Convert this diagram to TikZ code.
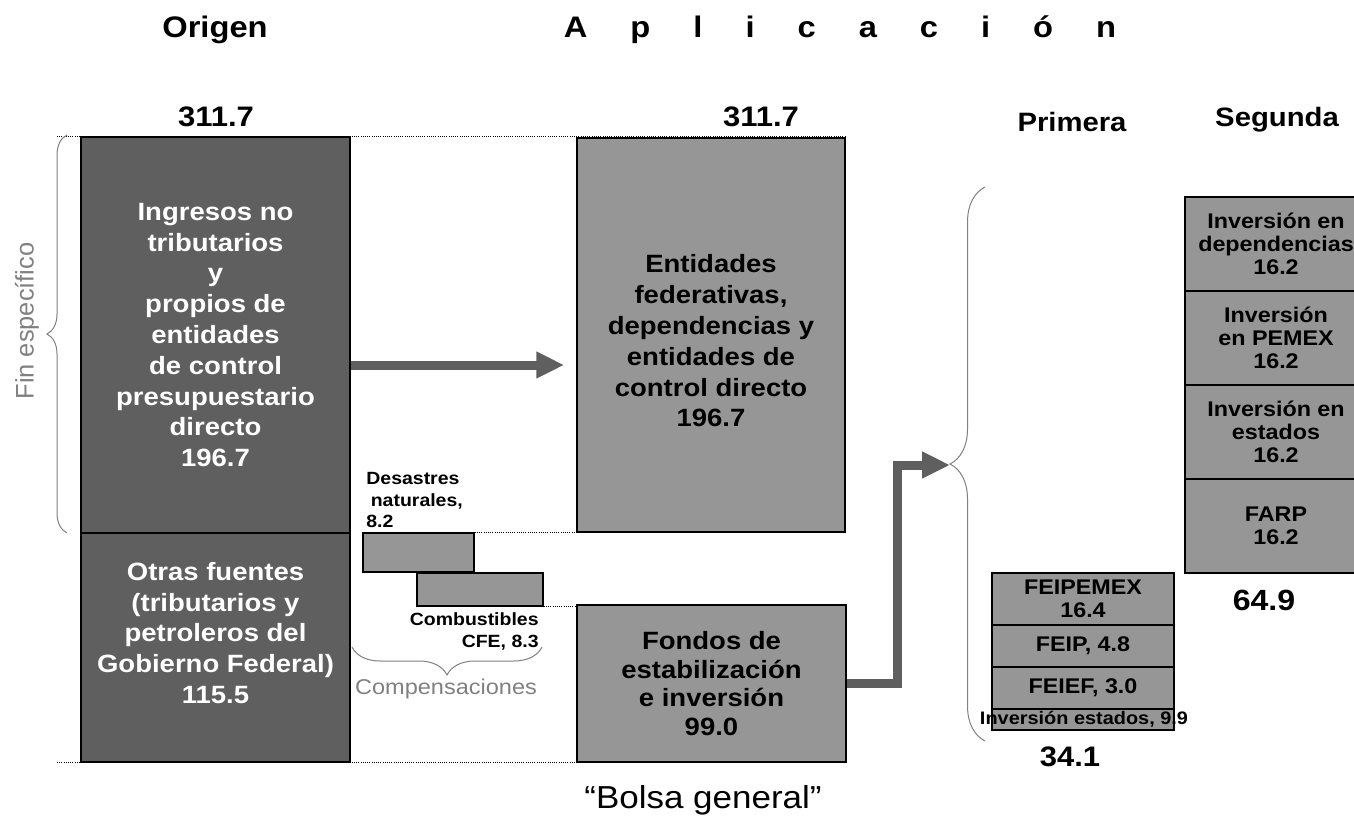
\documentclass[tikz,border=0pt]{standalone}
\usepackage{fontspec}
\setmainfont{Liberation Sans}[FakeStretch=1.1]
\newfontfamily\plainsans{Liberation Sans}
\usetikzlibrary{arrows.meta,decorations.pathreplacing}
\definecolor{darkfill}{RGB}{95,95,95}
\definecolor{lightfill}{RGB}{150,150,150}
\definecolor{bracegray}{RGB}{128,128,128}
\tikzset{
  darkbox/.style={draw=black,line width=0.75pt,fill=darkfill,text=white,inner sep=0pt,align=center,font=\bfseries\fontsize{12.5}{15.4}\selectfont},
  lightbox/.style={draw=black,line width=0.75pt,fill=lightfill,inner sep=0pt,align=center,font=\bfseries\fontsize{12.5}{15.4}\selectfont},
  stackbox/.style={lightbox,minimum width=91pt,font=\bfseries\fontsize{10.6}{11.6}\selectfont},
  smallnote/.style={inner sep=0pt,font=\bfseries\fontsize{8.85}{10.8}\selectfont},
  total/.style={inner sep=0pt,font=\bfseries\fontsize{14.1}{15}\selectfont},
  colhead/.style={inner sep=0pt,font=\bfseries\fontsize{13.3}{14}\selectfont},
  heading/.style={inner sep=0pt,font=\bfseries\fontsize{14.85}{16}\selectfont},
  bigarrow/.style={draw=darkfill,line width=4.5pt,-{Triangle[length=14pt,width=12.5pt]}},
  curly/.style={draw=bracegray,line width=0.5pt,decorate},
  dotline/.style={line width=0.5pt,dash pattern=on 0.5pt off 0.6pt}
}

\begin{document}
\begin{tikzpicture}[x=0.5pt,y=-0.5pt]
\useasboundingbox (0,0) rectangle (1354,818);

\node[heading] (origen) at (215,30) {Origen};
\node[heading] (aplicacion) at (840,30) {\spaceskip=21.5pt A p l i c a c i ó n};

\node[total] (totalorigen) at (216,117) {311.7};
\node[total] (totalaplic) at (761,117) {311.7};
\node[colhead] (primera) at (1072,122) {Primera};
\node[colhead] (segunda) at (1277,120) {Segunda};

\node[darkbox,minimum width=134.5pt,minimum height=198pt] (ingresos) at (215.5,335) {Ingresos no\\ tributarios\\y\\propios de\\ entidades\\de control\\presupuestario\\directo\\196.7};
\node[darkbox,minimum width=134.5pt,minimum height=114.5pt] (otras) at (215.5,647.5) {};
\node[darkbox,draw=none,fill=none] (otrastxt) at (215.5,633) {Otras fuentes\\(tributarios y\\petroleros del\\Gobierno Federal)\\115.5};

\node[lightbox,minimum width=134pt,minimum height=197pt] (entidades) at (711,335) {};
\node[lightbox,draw=none,fill=none] (entidadestxt) at (711,341) {Entidades\\federativas,\\dependencias y\\entidades de\\control directo\\196.7};
\node[lightbox,minimum width=134.5pt,minimum height=78.5pt,font=\bfseries\fontsize{12.5}{14.3}\selectfont] (fondos) at (711.5,683.5) {Fondos de\\estabilización\\e inversión\\99.0};

\node[lightbox,minimum width=55.5pt,minimum height=19.5pt] (desastres) at (418.5,552.5) {};
\node[lightbox,minimum width=63pt,minimum height=16.5pt] (combustibles) at (480,589.5) {};
\node[smallnote,align=left,anchor=north west] (desastrestxt) at (366,472) {Desastres\\\hspace*{0.25em}naturales,\\8.2};
\node[smallnote,align=right,anchor=north east,font=\bfseries\fontsize{8.85}{11}\selectfont] (combustiblestxt) at (539,612) {Combustibles\\CFE, 8.3};

\node[stackbox,minimum height=26pt] (feipemex) at (1083,599) {FEIPEMEX\\16.4};
\node[stackbox,minimum height=21pt] (feip) at (1083,646) {FEIP, 4.8};
\node[stackbox,minimum height=21pt] (feief) at (1083,688) {FEIEF, 3.0};
\node[stackbox,minimum height=10.5pt] (invest) at (1083,719.5) {};
\node[smallnote,font=\bfseries\fontsize{9.05}{10}\selectfont] (investtxt) at (1084,719.5) {Inversión estados, 9.9};
\node[total] (totalprimera) at (1070,757) {34.1};

\node[stackbox,minimum height=47pt] (dependencias) at (1276,244) {Inversión en\\dependencias\\16.2};
\node[stackbox,minimum height=47pt] (pemex) at (1276,338) {Inversión\\en PEMEX\\16.2};
\node[stackbox,minimum height=47pt] (estados) at (1276,432) {Inversión en\\estados\\16.2};
\node[stackbox,minimum height=47pt] (farp) at (1276,526) {FARP\\16.2};
\node[total,font=\bfseries\fontsize{14.6}{15}\selectfont] (totalsegunda) at (1264,600) {64.9};

\coordinate (topleft) at (57,137);
\coordinate (botleft) at (57,762);
\draw[dotline] (topleft) -- (topleft -| entidades.east);
\draw[dotline] (botleft) -- (botleft -| fondos.east);
\draw[dotline] (desastres.north east) -- (desastres.north east -| entidades.west);
\draw[dotline] (combustibles.south east) -- (combustibles.south east -| fondos.west);

\coordinate (arrowlevel) at (0,365);
\draw[bigarrow,shorten >=6pt] (ingresos.east |- arrowlevel) -- (entidades.west |- arrowlevel);
\coordinate (bend) at (897,465);
\coordinate (bracetip) at (950,465);
\draw[bigarrow,line join=miter] (fondos.east) -| (bend) -- (bracetip);

\draw[curly,decoration={brace,amplitude=10pt}] (67,533) -- (67,135);
\node[rotate=90,inner sep=0pt,text=bracegray,font=\plainsans\fontsize{12.7}{14}\selectfont] (finesp) at (27,321) {Fin específico};
\draw[curly,decoration={brace,amplitude=14pt}] (542,647) -- (352,647);
\node[inner sep=0pt,text=bracegray,font=\fontsize{10.7}{12}\selectfont] (compens) at (446,689) {Compensaciones};
\draw[curly,decoration={brace,amplitude=17.5pt}] (985,741) -- (985,187);

\node[inner sep=0pt,font=\fontsize{15.9}{17}\selectfont] (bolsa) at (703,800) {“Bolsa general”};
\end{tikzpicture}
\end{document}
